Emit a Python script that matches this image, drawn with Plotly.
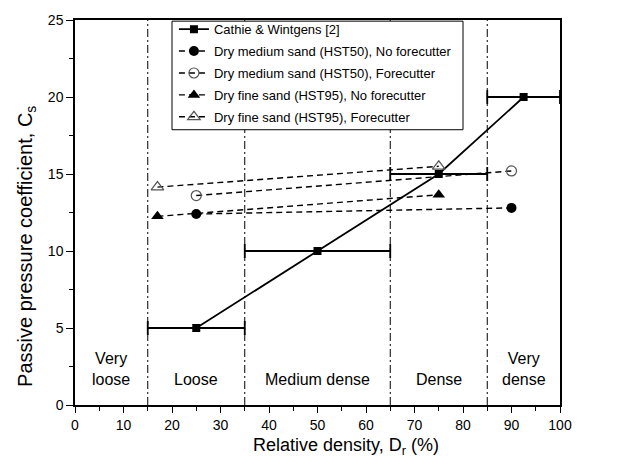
import plotly.graph_objects as go

# Cathie & Wintgens [2]
cw_x = [25, 50, 75, 92.5]
cw_y = [5, 10, 15, 20]
cw_err_minus = [10, 15, 10, 7.5]
cw_err_plus = [10, 15, 10, 7.5]

# Dry medium sand (HST50), No forecutter
med_nf_x = [25, 90]
med_nf_y = [12.4, 12.8]
# Dry medium sand (HST50), Forecutter
med_f_x = [25, 90]
med_f_y = [13.6, 15.2]
# Dry fine sand (HST95), No forecutter
fine_nf_x = [17, 75]
fine_nf_y = [12.25, 13.65]
# Dry fine sand (HST95), Forecutter
fine_f_x = [17, 75]
fine_f_y = [14.15, 15.5]

zone_bounds = [15, 35, 65, 85]
zone_labels = ["Very<br>loose", "Loose", "Medium dense", "Dense", "Very<br>dense"]
zone_label_x = [7.5, 25, 50, 75, 92.5]
zone_label_y = [2.35, 1.65, 1.65, 1.65, 2.35]

x_title = "Relative density, D<sub>r</sub> (%)"
y_title = "Passive pressure coefficient, C<sub>s</sub>"

FONT = "Liberation Sans, Arial, sans-serif"
dash = "6px,4px"

fig = go.Figure()

fig.add_trace(go.Scatter(
    x=cw_x, y=cw_y, mode="lines+markers", name="Cathie & Wintgens [2]", legendgroup="g1",
    line=dict(color="black", width=1.8),
    marker=dict(symbol="square", size=8, color="black"),
    error_x=dict(type="data", symmetric=False, array=cw_err_plus, arrayminus=cw_err_minus,
                 color="black", thickness=1.8, width=7),
))
fig.add_trace(go.Scatter(
    x=med_nf_x, y=med_nf_y, mode="lines+markers", legendgroup="g2",
    name="Dry medium sand (HST50), No forecutter",
    line=dict(color="black", width=1.4, dash=dash),
    marker=dict(symbol="circle", size=10, color="black"),
))
fig.add_trace(go.Scatter(
    x=med_f_x, y=med_f_y, mode="lines+markers", legendgroup="g3",
    name="Dry medium sand (HST50), Forecutter",
    line=dict(color="black", width=1.4, dash=dash),
    marker=dict(symbol="circle-open", size=10, color="#555", line=dict(width=1.2)),
))
fig.add_trace(go.Scatter(
    x=fine_nf_x, y=fine_nf_y, mode="lines+markers", legendgroup="g4",
    name="Dry fine sand (HST95), No forecutter",
    line=dict(color="black", width=1.4, dash=dash),
    marker=dict(symbol="triangle-up", size=11, color="black"),
))
fig.add_trace(go.Scatter(
    x=fine_f_x, y=fine_f_y, mode="lines+markers", legendgroup="g5",
    name="Dry fine sand (HST95), Forecutter",
    line=dict(color="black", width=1.4, dash=dash),
    marker=dict(symbol="triangle-up-open", size=11, color="#555", line=dict(width=1.2)),
))

for xb in zone_bounds:
    fig.add_shape(type="line", x0=xb, x1=xb, y0=0, y1=25, xref="x", yref="y",
                  line=dict(color="black", width=1, dash="8px,3px,2px,3px"), layer="below")

# legend frame (opaque, covers the zone lines behind the legend)
fig.add_shape(type="rect", xref="paper", yref="paper", x0=0.2, x1=0.80, y0=0.715, y1=0.997,
              line=dict(color="black", width=1), fillcolor="white", layer="above")

for t, xx, yy in zip(zone_labels, zone_label_x, zone_label_y):
    fig.add_annotation(x=xx, y=yy, text=t, showarrow=False, xref="x", yref="y",
                       font=dict(family=FONT, size=16, color="black"))

fig.add_annotation(x=0.559, y=-0.108, xref="paper", yref="paper", text=x_title,
                   showarrow=False, yanchor="middle", xanchor="center",
                   font=dict(family=FONT, size=18, color="black"))
fig.add_annotation(x=-0.1, y=0.412, xref="paper", yref="paper", text=y_title,
                   showarrow=False, textangle=-90, xanchor="center", yanchor="middle",
                   font=dict(family=FONT, size=20, color="black"))

fig.update_layout(
    width=630, height=464,
    margin=dict(l=75, r=70, t=17, b=59),
    paper_bgcolor="white", plot_bgcolor="white",
    font=dict(family=FONT, size=14, color="black"),
    showlegend=True,
    legend=dict(x=0.204, y=1.015, xanchor="left", yanchor="top",
                bgcolor="rgba(0,0,0,0)", borderwidth=0,
                font=dict(family=FONT, size=13, color="black"),
                tracegroupgap=2),
)
fig.update_xaxes(
    range=[0, 100], tickmode="linear", tick0=0, dtick=10,
    ticks="outside", ticklen=6, tickwidth=1.2, tickcolor="black",
    minor=dict(ticks="outside", ticklen=4, dtick=5, tickcolor="black", tickwidth=1.2),
    showline=True, linecolor="black", linewidth=1.5, mirror=True,
    showgrid=False, zeroline=False,
    tickfont=dict(family=FONT, size=14),
)
fig.update_yaxes(
    range=[0, 25], tickmode="linear", tick0=0, dtick=5,
    ticks="outside", ticklen=7, tickwidth=1.2, tickcolor="black",
    minor=dict(ticks="outside", ticklen=4, dtick=2.5, tickcolor="black", tickwidth=1.2),
    showline=True, linecolor="black", linewidth=1.5, mirror=True,
    showgrid=False, zeroline=False,
    tickfont=dict(family=FONT, size=14),
)

fig.write_html("out.html")
